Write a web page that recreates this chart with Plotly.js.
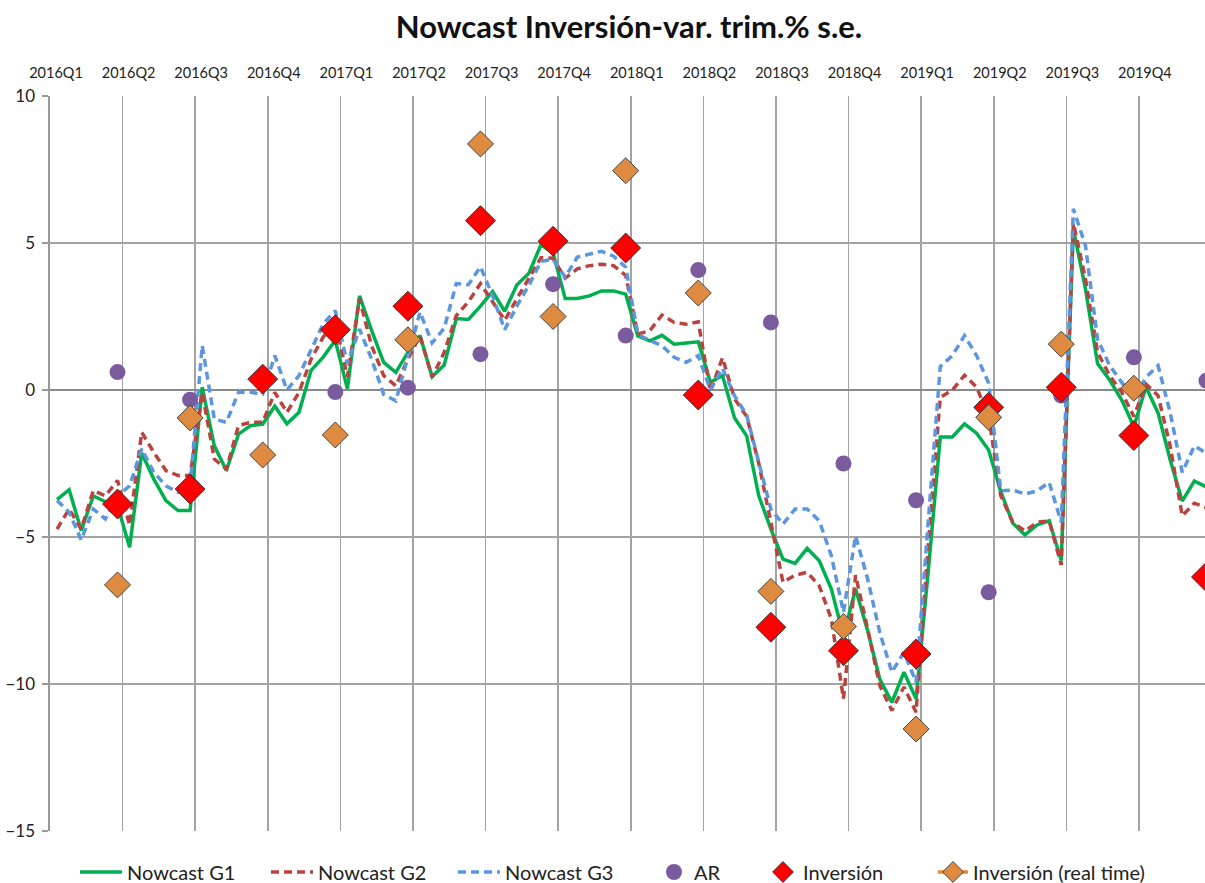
<!DOCTYPE html>
<html>
<head>
<meta charset="utf-8">
<script src="https://cdn.plot.ly/plotly-3.0.1.min.js"></script>
<style>html,body{margin:0;padding:0;background:#fff;}#chart{width:1205px;height:883px;}</style>
</head>
<body>
<div id="chart"></div>
<script>
// Quarter labels (top axis)
const quarters = ['2016Q1','2016Q2','2016Q3','2016Q4','2017Q1','2017Q2','2017Q3','2017Q4',
                  '2018Q1','2018Q2','2018Q3','2018Q4','2019Q1','2019Q2','2019Q3','2019Q4'];

// Nowcast series: 6 nowcasts per quarter (96 points)
const nowcastG1 = [-3.73,-3.39,-4.78,-3.6,-3.8,-3.93, -5.35,-2.14,-3.03,-3.76,-4.1,-4.1,
  0.1,-1.9,-2.74,-1.5,-1.21,-1.16, -0.55,-1.15,-0.76,0.67,1.12,1.69,
  0.04,3.2,2.03,0.94,0.6,1.28, 1.85,0.45,0.85,2.43,2.4,2.85,
  3.35,2.68,3.57,3.97,4.94,4.66, 3.11,3.11,3.2,3.37,3.37,3.26,
  1.84,1.67,1.86,1.56,1.6,1.64, 0.26,0.49,-0.95,-1.56,-3.6,-4.73,
  -5.75,-5.9,-5.39,-5.81,-6.77,-8.36, -6.77,-8.19,-9.83,-10.62,-9.6,-10.5,
  -6.2,-1.6,-1.6,-1.15,-1.47,-2.04, -3.46,-4.53,-4.93,-4.59,-4.45,-5.8,
  5.48,3.44,0.9,0.34,-0.34,-1.25, 0.1,-0.78,-2.37,-3.78,-3.1,-3.3];

const nowcastG2 = [-4.73,-4.05,-4.73,-3.42,-3.6,-3.08, -4.6,-1.44,-2.12,-2.74,-2.91,-2.91,
  -0.08,-2.35,-2.69,-1.21,-1.1,-1.1, -0.08,-0.76,-0.08,1.05,1.8,2.3,
  0.45,3.1,1.5,0.49,0.14,1.05, 1.85,0.43,1.28,2.53,3.0,3.62,
  3.0,2.37,3.1,3.78,4.5,4.48, 3.8,4.12,4.23,4.28,4.23,3.9,
  1.9,2.02,2.55,2.3,2.24,2.32, -0.05,1.1,-0.3,-0.9,-2.5,-4.5,
  -6.54,-6.3,-6.2,-6.66,-7.79,-10.5, -6.3,-8.13,-10.06,-10.9,-10.1,-10.96,
  -5.3,-0.25,0.0,0.5,0.1,-0.9, -3.6,-4.5,-4.8,-4.5,-4.45,-5.95,
  5.68,3.78,1.28,0.49,-0.08,-0.9, 0.2,-0.19,-1.9,-4.28,-3.85,-4.0];

const nowcastG3 = [-3.76,-4.16,-5.1,-4.05,-4.39,-3.6, -3.26,-2.0,-2.8,-3.26,-3.48,-3.26,
  1.51,-0.99,-1.1,-0.08,-0.08,-0.14, 1.17,0.0,0.49,1.4,2.25,2.7,
  0.89,2.07,1.05,-0.15,-0.37,1.12, 2.65,1.6,2.1,3.62,3.58,4.19,
  3.2,2.05,2.85,3.56,4.38,4.44, 3.84,4.52,4.61,4.72,4.55,4.18,
  1.9,1.68,1.51,1.11,0.94,1.17, 0.0,0.74,-0.2,-0.85,-2.46,-4.05,
  -4.56,-4.05,-4.05,-4.45,-5.64,-7.56, -4.96,-6.43,-8.24,-9.6,-8.92,-9.94,
  -4.5,0.8,1.17,1.85,1.17,0.23, -3.43,-3.4,-3.54,-3.43,-3.14,-4.5,
  6.16,4.91,1.73,0.83,0.26,-0.31, 0.43,0.83,-0.76,-2.8,-1.9,-2.15];

// Quarterly values (one per quarter, end of quarter)
const arValues    = [0.61,-0.33,null,-0.07,0.08,1.22,3.6,1.85,4.08,2.3,-2.5,-3.75,-6.88,-0.19,1.11,0.32];
const inversion   = [-3.88,-3.37,0.37,2.05,2.85,5.76,5.06,4.83,-0.17,-8.07,-8.87,-8.98,-0.59,0.09,-1.55,-6.36];
const inversionRT = [-6.63,-0.95,-2.21,-1.53,1.71,8.37,2.5,7.46,3.3,-6.85,-8.04,-11.53,-0.93,1.56,0.06,null];

// x positions: period index on a quarter scale
const nowX = nowcastG1.map((_, i) => (i + 1) / 6 - 0.07);
const qX = quarters.map((_, k) => k + 1 - 0.07);

// real-time series drawn as a broken line so only markers show
const rtX = [], rtY = [];
inversionRT.forEach((v, k) => { rtX.push(qX[k]); rtY.push(v); rtX.push(qX[k] + 0.01); rtY.push(null); });

const FONT = 'Lato, "Open Sans", sans-serif';

const traces = [
  {x: nowX, y: nowcastG1, name: 'Nowcast G1', mode: 'lines', type: 'scatter', legend: 'legend',
   line: {color: '#00B050', width: 3.5}},
  {x: nowX, y: nowcastG2, name: 'Nowcast G2', mode: 'lines', type: 'scatter', legend: 'legend2',
   line: {color: '#B8443F', width: 3.5, dash: '8px,5px'}},
  {x: nowX, y: nowcastG3, name: 'Nowcast G3', mode: 'lines', type: 'scatter', legend: 'legend3',
   line: {color: '#5B96DE', width: 3.5, dash: '8px,5px'}},
  {x: qX, y: arValues, name: 'AR', mode: 'markers', type: 'scatter', legend: 'legend4',
   marker: {color: '#7A5C9E', size: 16, symbol: 'circle'}},
  {x: qX, y: inversion, name: 'Inversión', mode: 'markers', type: 'scatter', legend: 'legend5',
   marker: {color: '#FF0000', size: 23, symbol: 'diamond', line: {color: '#333', width: 1}}},
  {x: rtX, y: rtY, name: 'Inversión (real time)', mode: 'lines+markers', type: 'scatter', legend: 'legend6',
   connectgaps: false,
   line: {color: '#E8893A', width: 3.5},
   marker: {color: '#DE8A40', size: 20, symbol: 'diamond', line: {color: '#444', width: 1}}}
];

function leg(px, w, fs) {
  return {xref: 'container', yref: 'container', x: px / 1205, xanchor: 'left',
          y: 11 / 883, yanchor: 'middle', orientation: 'h', itemwidth: w,
          font: {family: FONT, size: fs, color: '#222'}, bgcolor: 'rgba(0,0,0,0)', borderwidth: 0};
}

const layout = {
  width: 1205, height: 883,
  margin: {l: 50, r: 0, t: 96, b: 52},
  paper_bgcolor: '#fff', plot_bgcolor: '#fff',
  font: {family: FONT, color: '#222'},
  title: {text: 'Nowcast Inversión-var. trim.% s.e.', x: 0.522, xanchor: 'center', y: 0.969, yanchor: 'middle',
          font: {family: FONT, size: 31, weight: 'bold', color: '#111'}},
  showlegend: true,
  legend: leg(75, 42, 20),
  legend2: leg(266, 42, 20),
  legend3: leg(453, 42, 20),
  legend4: leg(654, 30, 20),
  legend5: leg(763, 30, 20),
  legend6: leg(933, 30, 20),
  xaxis: {range: [0, 15.91], side: 'top', tickmode: 'array',
          tickvals: quarters.map((_, k) => k), ticktext: quarters,
          tickfont: {family: FONT, size: 14.5, color: '#222'},
          ticklabelshift: 6, ticklabelstandoff: 14,
          ticks: '', showgrid: true, gridcolor: '#a3a3a3', gridwidth: 1.6,
          zeroline: false, showline: false, fixedrange: true},
  yaxis: {range: [-15, 10], tickvals: [-15, -10, -5, 0, 5, 10],
          tickfont: {family: FONT, size: 17, color: '#222'},
          ticks: 'outside', ticklen: 6, tickcolor: '#999', tickwidth: 1.5, ticklabelstandoff: 4,
          showgrid: true, gridcolor: '#a3a3a3', gridwidth: 1.6,
          zeroline: true, zerolinecolor: '#8a8a8a', zerolinewidth: 2.6,
          showline: true, linecolor: '#999', linewidth: 1.6, fixedrange: true}
};

Plotly.newPlot('chart', traces, layout, {displayModeBar: false, staticPlot: true});
</script>
</body>
</html>
